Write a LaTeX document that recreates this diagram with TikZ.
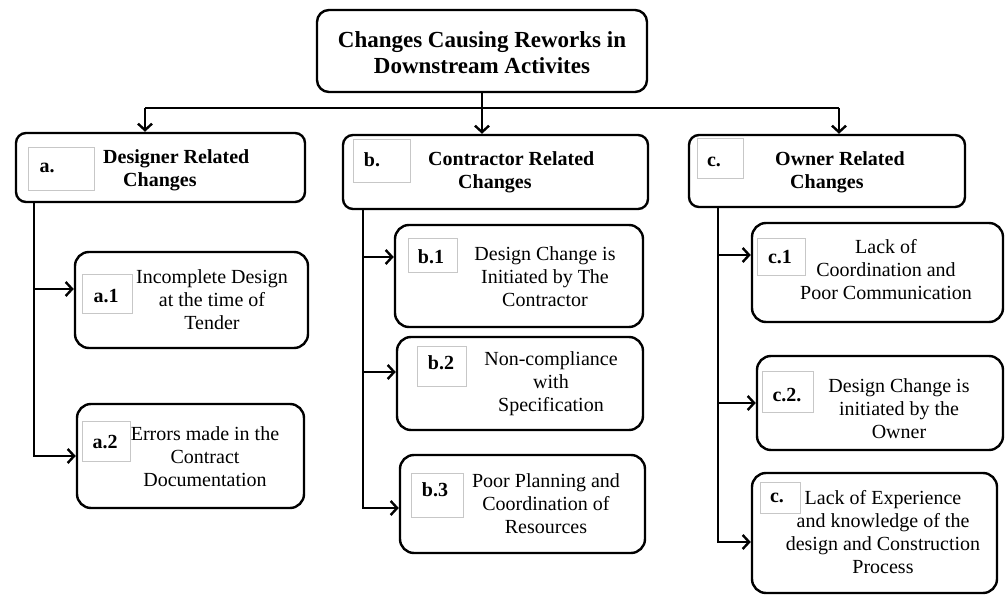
\documentclass[tikz,border=0pt]{standalone}
\usepackage{fontspec}
\setmainfont{Liberation Serif}
\usetikzlibrary{arrows.meta,fit}

\tikzset{
  frame/.style={draw=black, line width=2.4pt, rounded corners=#1, inner sep=0pt, fill=white},
  frame/.default=14pt,
  tag/.style={draw=black!22, line width=1pt, inner sep=0pt},
  txt/.style={inner sep=0pt, align=center, font=\fontsize{20}{23}\selectfont},
  headtxt/.style={inner sep=0pt, align=left, anchor=west, font=\fontsize{20}{23}\selectfont\bfseries},
  tagtxt/.style={inner sep=0pt, font=\fontsize{20}{23}\selectfont\bfseries},
  conn/.style={line width=2.4pt},
  arr/.style={line width=2.4pt, -{Straight Barb[length=6.5pt,width=14pt]}},
}

\begin{document}
\begin{tikzpicture}[x=1pt, y=-1pt]
\useasboundingbox (0,0) rectangle (1005,596);

% root
\node[frame=12pt, fit={(317,10) (647,92)}] (top) {};
\node[inner sep=0pt, align=center, font=\fontsize{23}{26}\selectfont\bfseries] (top-t) at (482,53)
  {Changes Causing Reworks in\\Downstream Activites};

% category headers
\node[frame=10pt, fit={(16,133) (305,202)}] (a) {};
\node[tag, fit={(28,148) (94,191)}] (a-k) {};
\node[tagtxt] (a-n) at (47,168) {a.};
\node[headtxt] (a-t) at (103,170) {Designer Related\\\hspace*{20pt}Changes};

\node[frame=10pt, fit={(343,135) (648,209)}] (b) {};
\node[tag, fit={(353,140) (410,183)}] (b-k) {};
\node[tagtxt] (b-n) at (372,160) {b.};
\node[headtxt] (b-t) at (428,172) {Contractor Related\\\hspace*{30pt}Changes};

\node[frame=10pt, fit={(689,135) (965,207)}] (c) {};
\node[tag, fit={(697,139) (743,179)}] (c-k) {};
\node[tagtxt] (c-n) at (714,162) {c.};
\node[headtxt] (c-t) at (775,172) {Owner Related\\\hspace*{15pt}Changes};

% designer items
\node[frame, fit={(75,252) (308,348)}] (a1) {};
\node[tag, fit={(82,275) (132,314)}] (a1-k) {};
\node[tagtxt] (a1-n) at (106,296) {a.1};
\node[txt] (a1-t) at (212,300) {Incomplete Design\\at the time of\\Tender};

\node[frame, fit={(77,404) (304,508)}] (a2) {};
\node[tag, fit={(82,421) (130,461)}] (a2-k) {};
\node[tagtxt] (a2-n) at (105,442) {a.2};
\node[txt] (a2-t) at (205,457) {Errors made in the\\Contract\\Documentation};

% contractor items
\node[frame, fit={(395,225) (643,327)}] (b1) {};
\node[tag, fit={(408,239) (457,273)}] (b1-k) {};
\node[tagtxt] (b1-n) at (431,257) {b.1};
\node[txt] (b1-t) at (545,277) {Design Change is\\Initiated by The\\Contractor};

\node[frame, fit={(397,337) (643,430)}] (b2) {};
\node[tag, fit={(417,347) (466,386)}] (b2-k) {};
\node[tagtxt] (b2-n) at (441,363) {b.2};
\node[txt] (b2-t) at (551,384) {Non-compliance\\with\\Specification};

\node[frame, fit={(400,455) (645,553)}] (b3) {};
\node[tag, fit={(411,473) (463,517)}] (b3-k) {};
\node[tagtxt] (b3-n) at (435,490) {b.3};
\node[txt] (b3-t) at (546,504) {Poor Planning and\\Coordination of\\Resources};

% owner items
\node[frame, fit={(752,223) (1003,322)}] (c1) {};
\node[tag, fit={(757,239) (805,276)}] (c1-k) {};
\node[tagtxt] (c1-n) at (780,257) {c.1};
\node[txt] (c1-t) at (886,270) {Lack of\\Coordination and\\Poor Communication};

\node[frame, fit={(757,356) (1003,450)}] (c2) {};
\node[tag, fit={(762,371) (813,412)}] (c2-k) {};
\node[tagtxt] (c2-n) at (787,395) {c.2.};
\node[txt] (c2-t) at (899,409) {Design Change is\\initiated by the\\Owner};

\node[frame, fit={(752,473) (997,593)}] (c3) {};
\node[tag, fit={(760,482) (800,513)}] (c3-k) {};
\node[tagtxt] (c3-n) at (777,498) {c.};
\node[txt] (c3-t) at (883,532) {Lack of Experience\\and knowledge of the\\design and Construction\\Process};

% distribution bus under the root
\coordinate (busL) at (145,108);
\coordinate (busR) at (839,108);
\draw[conn] (busL) -- (busR);
\draw[arr] (top.south) -- (top.south |- b.north);
\draw[arr] (busL) -- (busL |- a.north);
\draw[arr] (busR) -- (busR |- c.north);

% branch trunks
\coordinate (aroot) at ([xshift=19pt]a.south west);
\coordinate (broot) at ([xshift=21pt]b.south west);
\coordinate (croot) at ([xshift=30pt]c.south west);

\draw[arr] (aroot) |- ([yshift=11pt]a1.west);
\draw[arr] (aroot) |- (a2.west);

\draw[arr] (broot) |- ([yshift=19pt]b1.west);
\draw[arr] (broot) |- ([yshift=11.5pt]b2.west);
\draw[arr] (broot) |- ([yshift=-4pt]b3.west);

\draw[arr] (croot) |- ([yshift=17.5pt]c1.west);
\draw[arr] (croot) |- (c2.west);
\draw[arr] (croot) |- ([yshift=-9pt]c3.west);
\end{tikzpicture}
\end{document}
